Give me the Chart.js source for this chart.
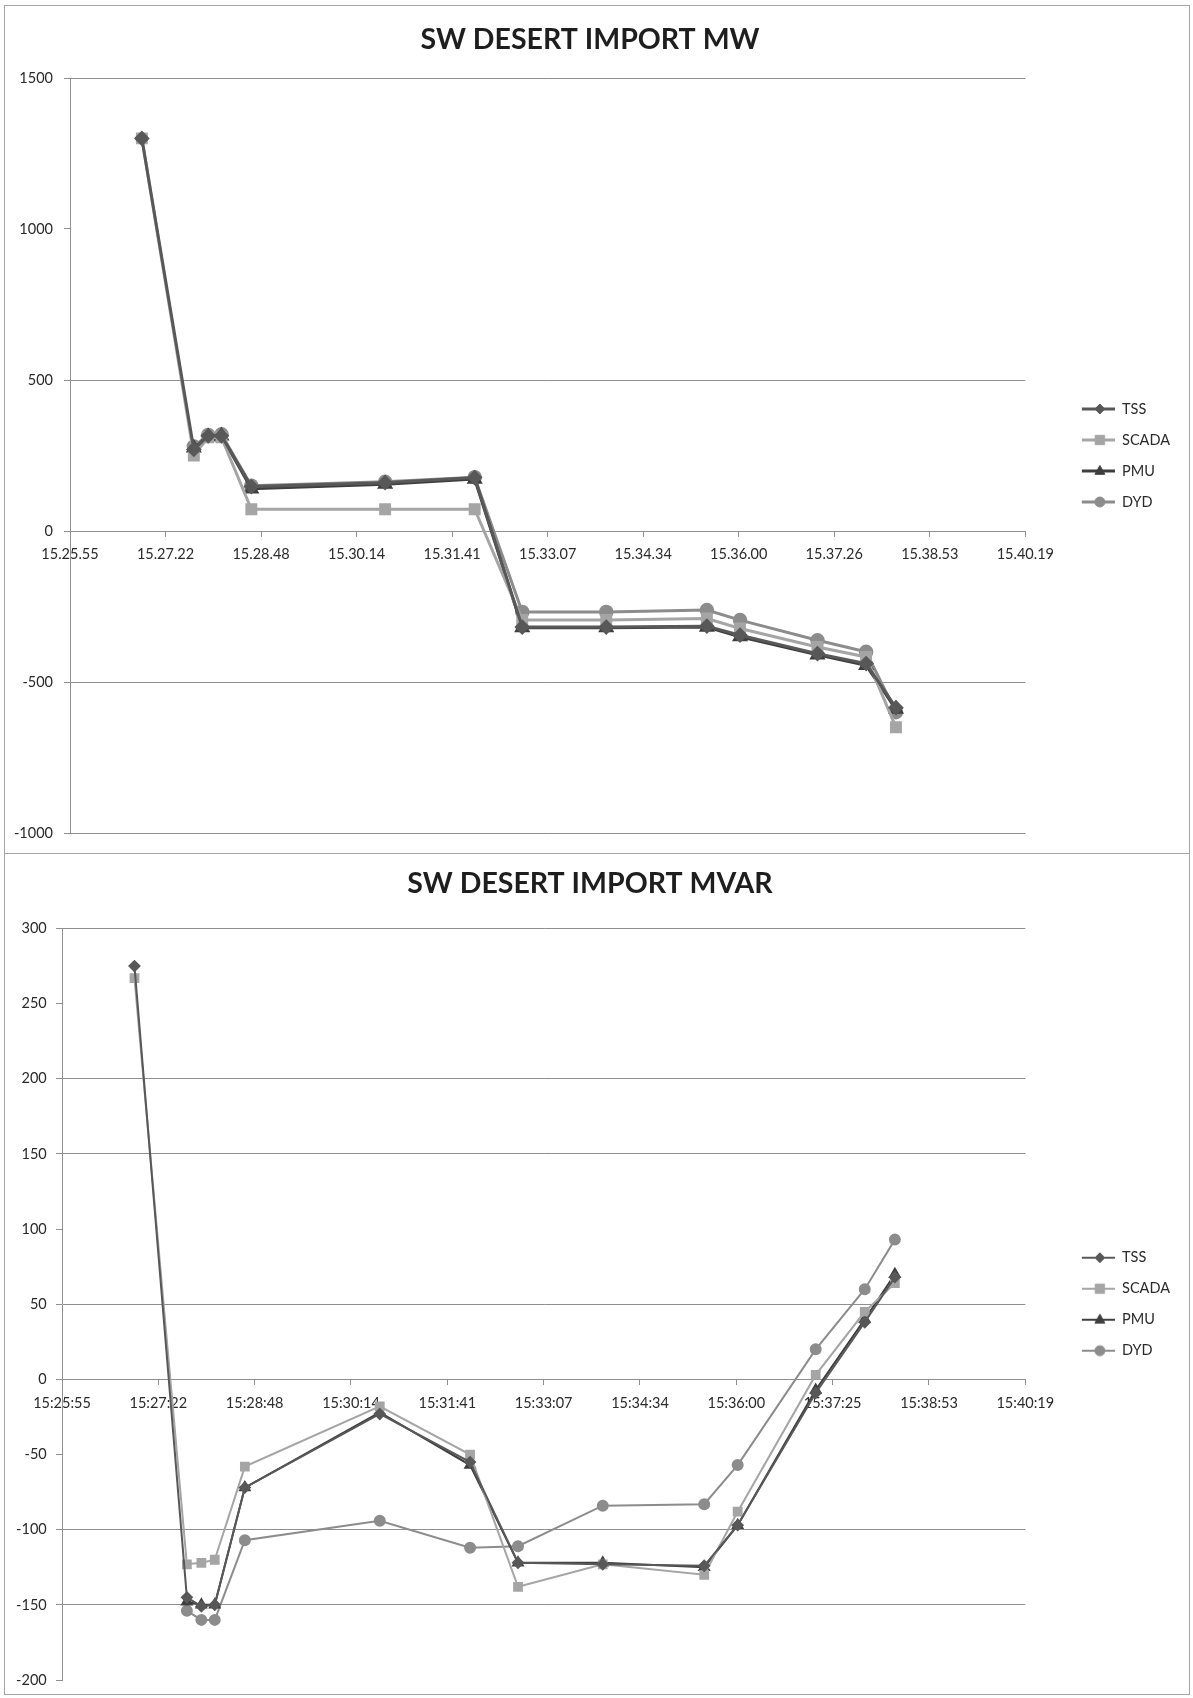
<!DOCTYPE html>
<html>
<head>
<meta charset="utf-8">
<script src="https://cdn.jsdelivr.net/npm/chart.js@4.4.0/dist/chart.umd.min.js"></script>
<style>
html,body{margin:0;padding:0;background:#fff;}
#wrap{position:relative;width:1193px;height:1698px;overflow:hidden;}
canvas{position:absolute;left:0;}
#mw{top:0;}
#mvar{top:853px;}
.frame{position:absolute;left:4px;top:5px;width:1186px;height:1690px;border:1px solid #a4a4a4;box-sizing:border-box;pointer-events:none;}
.sep{position:absolute;left:4px;top:853px;width:1186px;height:1px;background:#a4a4a4;pointer-events:none;}
</style>
</head>
<body>
<div id="wrap">
  <canvas id="mw" width="1193" height="853"></canvas>
  <canvas id="mvar" width="1193" height="845"></canvas>
  <div class="frame"></div>
  <div class="sep"></div>
</div>
<script>
// ---------------- DATA ----------------
const axisStart = "15:25:55";
const sampleTimes = ["15:27:00","15:27:47","15:28:00","15:28:12","15:28:39","15:30:40","15:32:01",
                     "15:32:44","15:34:00","15:35:31","15:36:01","15:37:11","15:37:55","15:38:22"];
const seriesNames = ["TSS", "SCADA", "PMU", "DYD"];

// SW DESERT IMPORT MW
const mwTSS   = [1300, 270, 315, 315, 147, 160, 177, -318, -318, -315, -345, -406, -439, -585];
const mwSCADA = [1300, 250, 310, 310,  72,  72,  72, -295, -295, -290, -323, -384, -417, -650];
const mwPMU   = [null, 275, 312, 315, 140, 155, 172, -320, -320, -318, -350, -410, -445, -590];
const mwDYD   = [null, 280, 318, 320, 150, 163, 178, -268, -268, -262, -295, -362, -400, -600];
const mwXTickLabels = ["15.25.55","15.27.22","15.28.48","15.30.14","15.31.41","15.33.07",
                       "15.34.34","15.36.00","15.37.26","15.38.53","15.40.19"];
const mwYTicks = [-1000, -500, 0, 500, 1000, 1500];

// SW DESERT IMPORT MVAR
const mvarTSS   = [275, -145, -151, -150,  -72, -23, -55, -122, -123, -124, -97,  -9, 38, 68];
const mvarSCADA = [267, -123, -122, -120,  -58, -18, -50, -138, -123, -130, -88,   3, 45, 64];
const mvarPMU   = [null, -148, -150, -150, -72, -22, -57, -122, -122, -125, -97,  -7, 40, 70];
const mvarDYD   = [null, -154, -160, -160, -107, -94, -112, -111, -84, -83, -57,  20, 60, 93];
const mvarXTickLabels = ["15:25:55","15:27:22","15:28:48","15:30:14","15:31:41","15:33:07",
                         "15:34:34","15:36:00","15:37:25","15:38:53","15:40:19"];
const mvarYTicks = [-200, -150, -100, -50, 0, 50, 100, 150, 200, 250, 300];

// ---------------- HELPERS ----------------
const xStepSeconds = 86.4; // Excel major unit 0.001 day
function toSec(t) { const p = t.split(':').map(Number); return p[0]*3600 + p[1]*60 + p[2]; }
const x0 = toSec(axisStart);
const xs = sampleTimes.map(t => toSec(t) - x0);
const toPoints = vals => vals.map((v, i) => ({ x: xs[i], y: v }));

const FONT = "Lato, 'Open Sans', 'DejaVu Sans', sans-serif";
const GRID = '#8f8f8f';

const seriesStyle = {
  TSS:   { color: '#585858', point: 'rectRot',  r: 5 },
  SCADA: { color: '#a5a5a5', point: 'rect',     r: 5.5 },
  PMU:   { color: '#3e3e3e', point: 'triangle', r: 5.5 },
  DYD:   { color: '#8c8c8c', point: 'circle',   r: 5 }
};

function drawMarker(g, style, x, y, r, color) {
  g.fillStyle = color; g.strokeStyle = color; g.lineWidth = 1;
  g.beginPath();
  if (style === 'rectRot') {
    g.moveTo(x, y - r); g.lineTo(x + r, y); g.lineTo(x, y + r); g.lineTo(x - r, y); g.closePath();
  } else if (style === 'rect') {
    const s = r * 0.85; g.rect(x - s, y - s, 2*s, 2*s);
  } else if (style === 'triangle') {
    g.moveTo(x, y - r); g.lineTo(x + r*0.9, y + r*0.6); g.lineTo(x - r*0.9, y + r*0.6); g.closePath();
  } else {
    g.arc(x, y, r, 0, Math.PI*2);
  }
  g.fill(); g.stroke();
}

const LEGEND_W = 73;
function legendImage(name, lw) {
  const st = seriesStyle[name];
  const c = document.createElement('canvas');
  c.width = LEGEND_W; c.height = 14;
  const g = c.getContext('2d');
  g.strokeStyle = st.color; g.lineWidth = lw;
  g.beginPath(); g.moveTo(40, 7); g.lineTo(LEGEND_W, 7); g.stroke();
  drawMarker(g, st.point, 58, 7, st.r, st.color);
  return c;
}

function makeChart(id, o) {
  const datasets = o.values.map((vals, i) => {
    const st = seriesStyle[seriesNames[i]];
    return {
      label: seriesNames[i],
      data: toPoints(vals),
      borderColor: st.color,
      backgroundColor: st.color,
      pointBackgroundColor: st.color,
      pointBorderColor: st.color,
      pointStyle: st.point,
      pointRadius: st.r * o.markerScale,
      borderWidth: o.lineWidth,
      tension: 0,
      spanGaps: false
    };
  });
  const imgs = seriesNames.map(n => legendImage(n, o.lineWidth));
  return new Chart(document.getElementById(id), {
    type: 'line',
    data: { datasets },
    options: {
      responsive: false,
      animation: false,
      events: [],
      layout: { padding: { left: 0, right: o.padRight, top: 0, bottom: o.padBottom } },
      plugins: {
        title: {
          display: true, text: o.title, color: '#1e1e1e',
          font: { family: FONT, size: 28.5, weight: 'bold', lineHeight: 1.2 },
          padding: { top: o.titlePad[0], bottom: o.titlePad[1] }
        },
        legend: {
          display: true, position: 'right', fullSize: false,
          labels: {
            usePointStyle: true, pointStyleWidth: LEGEND_W, boxHeight: 14,
            padding: 16.5, color: '#2a2a2a',
            font: { family: FONT, size: 14.5 },
            generateLabels: chart => {
              const items = Chart.defaults.plugins.legend.labels.generateLabels(chart);
              items.forEach(it => { it.pointStyle = imgs[it.datasetIndex]; });
              return items;
            }
          }
        },
        tooltip: { enabled: false }
      },
      scales: {
        x: {
          type: 'linear',
          position: { y: 0 },
          min: 0, max: xStepSeconds * (o.xLabels.length - 1),
          afterBuildTicks: s => { s.ticks = o.xLabels.map((_, i) => ({ value: i * xStepSeconds })); },
          ticks: {
            autoSkip: false, maxRotation: 0, padding: o.xTickPad, color: '#2a2a2a',
            font: { family: FONT, size: 14.5 },
            callback: (v, i) => o.xLabels[i]
          },
          grid: { drawOnChartArea: false, drawTicks: true, tickLength: 5, color: GRID, tickColor: GRID },
          border: { display: true, color: GRID, width: 1 }
        },
        y: {
          type: 'linear',
          position: 'left',
          min: o.yTicks[0], max: o.yTicks[o.yTicks.length - 1],
          afterBuildTicks: s => { s.ticks = o.yTicks.map(v => ({ value: v })); },
          afterFit: s => { s.width = o.yAxisWidth; },
          ticks: {
            padding: o.yTickPad, color: '#2a2a2a', font: { family: FONT, size: 14.5 },
            callback: v => String(v)
          },
          grid: {
            drawTicks: true, tickLength: 6, tickColor: GRID,
            color: c => (o.faintGrid.includes(c.tick && c.tick.value) ? 'rgba(0,0,0,0)' : GRID)
          },
          border: { display: true, color: GRID, width: 1 }
        }
      }
    }
  });
}

makeChart('mw', {
  title: 'SW DESERT IMPORT MW',
  values: [mwTSS, mwSCADA, mwPMU, mwDYD],
  xLabels: mwXTickLabels,
  yTicks: mwYTicks,
  faintGrid: [1000],
  lineWidth: 3,
  markerScale: 1.15,
  yAxisWidth: 70,
  yTickPad: 11,
  xTickPad: 9.5,
  titlePad: [22.9, 20.9],
  padRight: 13,
  padBottom: 20
});

makeChart('mvar', {
  title: 'SW DESERT IMPORT MVAR',
  values: [mvarTSS, mvarSCADA, mvarPMU, mvarDYD],
  xLabels: mvarXTickLabels,
  yTicks: mvarYTicks,
  faintGrid: [250, 100, -50, -200],
  lineWidth: 2,
  markerScale: 1,
  yAxisWidth: 62,
  yTickPad: 9.3,
  xTickPad: 10.5,
  titlePad: [13.9, 27.4],
  padRight: 13,
  padBottom: 18
});
</script>
</body>
</html>
